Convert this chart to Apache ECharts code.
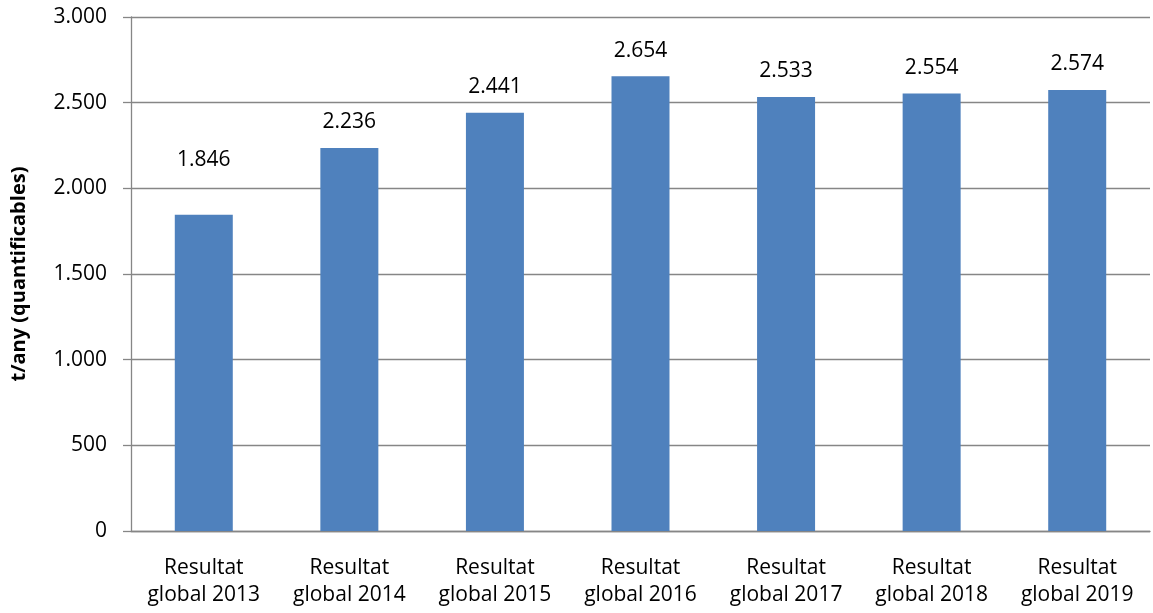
<!DOCTYPE html>
<html><head><meta charset="utf-8">
<script src="https://cdn.jsdelivr.net/npm/echarts@6/dist/echarts.min.js"></script>
<style>html,body{margin:0;padding:0;background:#fff}#c{width:1153px;height:613px}</style>
</head><body><div id="c"></div>
<script>
const categories = ['Resultat\nglobal 2013','Resultat\nglobal 2014','Resultat\nglobal 2015','Resultat\nglobal 2016','Resultat\nglobal 2017','Resultat\nglobal 2018','Resultat\nglobal 2019'];
const values = [1846, 2236, 2441, 2654, 2533, 2554, 2574];
const yTicks = [0, 500, 1000, 1500, 2000, 2500, 3000];
const labelGaps = [44, 15, 15, 15, 15, 15, 15];

const fmt = v => String(v).replace(/\B(?=(\d{3})+(?!\d))/g, '.');
const font = "'Open Sans', 'Noto Sans', sans-serif";
const chart = echarts.init(document.getElementById('c'));
chart.setOption({
  animation: false,
  grid: {left: 131, right: 3, top: 17, bottom: 82},
  xAxis: {
    type: 'category', data: categories,
    axisLine: {lineStyle: {color: '#868686', width: 1.3}},
    axisTick: {length: 8, lineStyle: {color: '#868686', width: 1.3}},
    axisLabel: {interval: 0, color: '#000', fontFamily: font, fontSize: 21, lineHeight: 27, margin: 24}
  },
  yAxis: {
    type: 'value', min: yTicks[0], max: yTicks[yTicks.length-1], interval: 500,
    name: 't/any (quantificables)', nameLocation: 'middle', nameGap: 102,
    nameTextStyle: {color: '#000', fontFamily: font, fontSize: 20, fontWeight: 'bold'},
    axisLine: {show: true, lineStyle: {color: '#868686', width: 1.3}},
    axisTick: {show: true, length: 8, lineStyle: {color: '#868686', width: 1.3}},
    splitLine: {lineStyle: {color: '#868686', width: 1.3}},
    axisLabel: {color: '#000', fontFamily: font, fontSize: 21, margin: 24, formatter: v => fmt(v)}
  },
  series: [{
    type: 'bar', barWidth: 58,
    itemStyle: {color: '#4F81BD'},
    data: values.map((v, i) => ({value: v, label: {distance: labelGaps[i]}})),
    label: {show: true, position: 'top', color: '#000', fontFamily: font, fontSize: 21, formatter: p => fmt(p.value)}
  }]
});
</script></body></html>
